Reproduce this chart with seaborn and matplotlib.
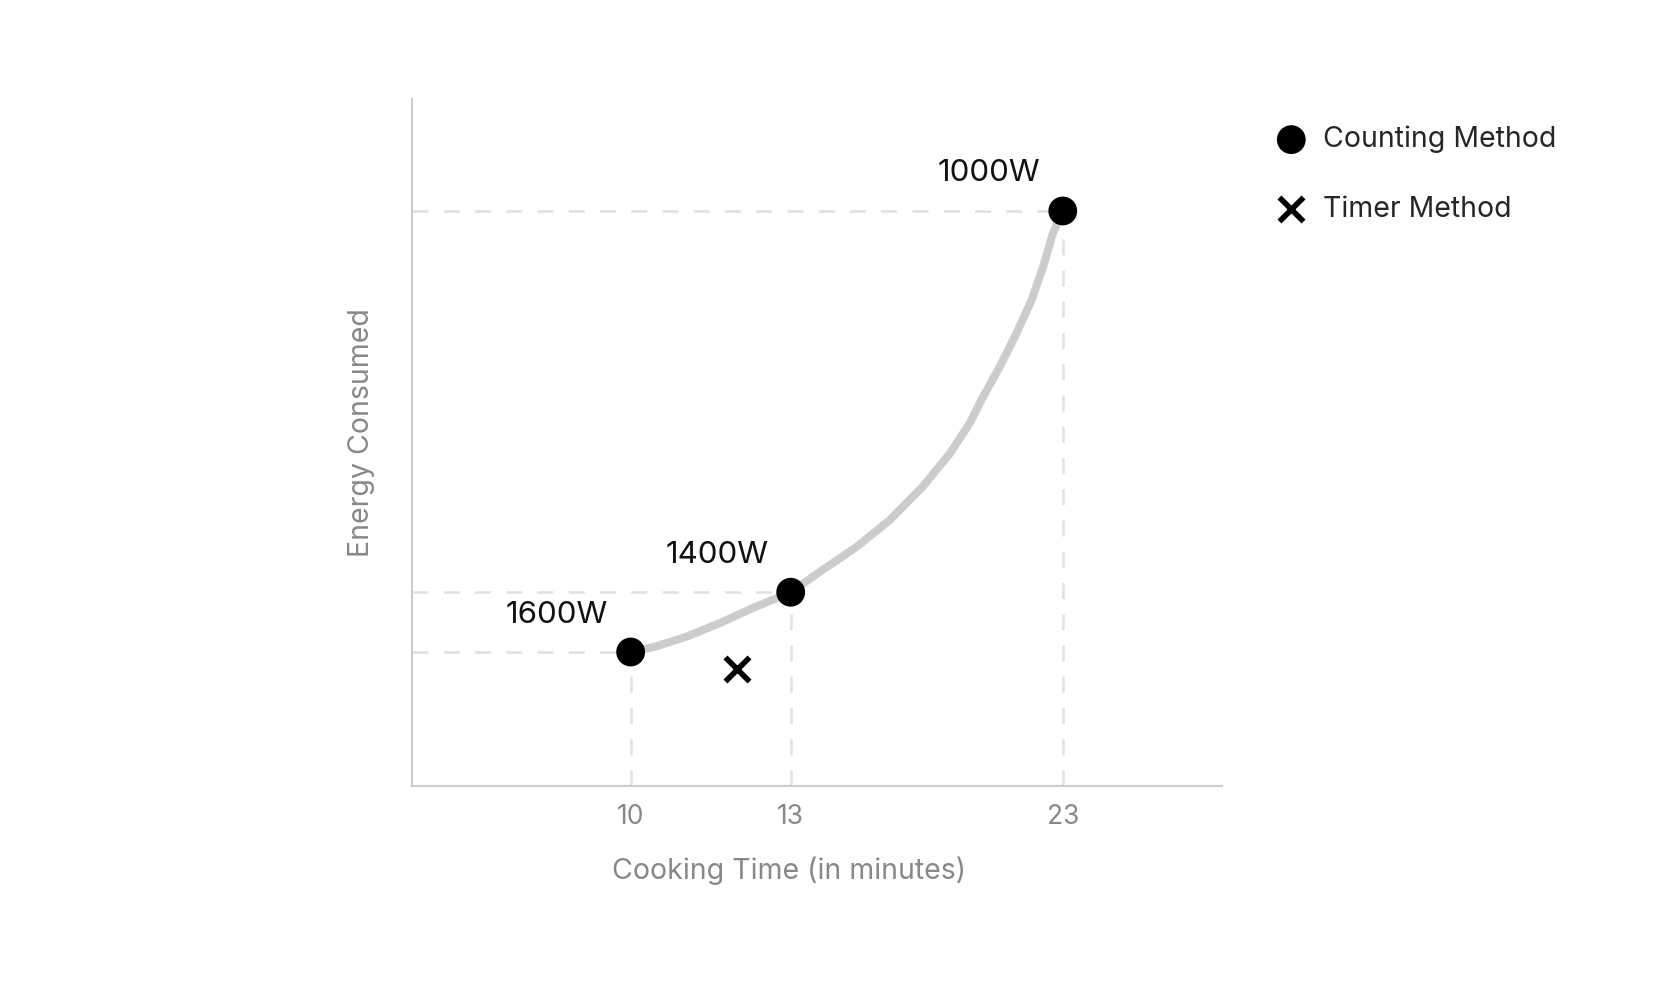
import numpy as np
import pandas as pd
import matplotlib
matplotlib.use('Agg')
import matplotlib.pyplot as plt
import seaborn as sns

# counting method points (cooking time in minutes, energy in arbitrary units)
count_time = [10, 13, 23]
count_energy = [19.5, 28.2, 83.7]
count_power = ['1600W', '1400W', '1000W']

# timer method point
timer_time = [12]
timer_energy = [17.0]

# gray trend curve
curve_time = [10, 10.42, 11.04, 11.67, 12.29, 13, 14.19, 15.42, 16.64, 17.86,
              18.85, 19.58, 20.01, 20.68, 21.3, 21.85, 22.28, 22.64, 23]
curve_energy = [19.5, 20.2, 21.7, 23.7, 25.9, 28.2, 31.5, 34.8, 38.7, 43.6,
                48.4, 52.8, 56.2, 61.0, 65.9, 70.7, 75.6, 80.5, 83.7]

x_ticks = [10, 13, 23]
x_lim = (5.9, 28.85)
y_lim = (0, 100)

# the time axis is not evenly spaced in the source, piecewise scale
scale_t = [0, 10, 13, 23, 50]
scale_u = [-10, 0, 3, 8.1, 21.87]

def fwd(t):
    return np.interp(t, scale_t, scale_u)

def inv(u):
    return np.interp(u, scale_u, scale_t)

sns.set_style('white')
plt.rcParams['font.family'] = ['Inter', 'DejaVu Sans']

gray_txt = '#888888'
fig = plt.figure(figsize=(16.65, 9.89), dpi=100)
ax = fig.add_axes([0.2474, 0.2053, 0.4865, 0.6946])

curve = pd.DataFrame({'time': curve_time, 'energy': curve_energy})
sns.lineplot(data=curve, x='time', y='energy', color='#cccccc', lw=5.8, sort=False,
             solid_capstyle='round', solid_joinstyle='round', zorder=3, ax=ax)

# dashed guide lines to the axes
for t, e in zip(count_time, count_energy):
    ax.hlines(e, x_lim[0], t, colors='#e0e0e0', lw=1.8, linestyles=(0, (6.4, 6.1)), zorder=1)
    ax.vlines(t, y_lim[0], e, colors='#e0e0e0', lw=1.8, linestyles=(0, (6.4, 6.1)), zorder=1)

counting = pd.DataFrame({'time': count_time, 'energy': count_energy})
timer = pd.DataFrame({'time': timer_time, 'energy': timer_energy})
sns.scatterplot(data=counting, x='time', y='energy', color='black', s=430, marker='o',
                edgecolor='none', zorder=5, label='Counting Method', ax=ax)
sns.scatterplot(data=timer, x='time', y='energy', color='black', s=300, marker='x',
                linewidth=4, zorder=5, label='Timer Method', ax=ax)

for t, e, lab in zip(count_time, count_energy, count_power):
    ax.annotate(lab, (t, e), xytext=(-53, 27), textcoords='offset points',
                ha='center', va='center', fontsize=22.5, color='#111111')

ax.set_xscale('function', functions=(fwd, inv))
ax.set_xlim(*x_lim)
ax.set_ylim(*y_lim)
ax.set_xticks(x_ticks)
ax.set_xticklabels([str(t) for t in x_ticks])
ax.set_yticks([])
ax.tick_params(axis='x', length=0, pad=13, labelsize=19, labelcolor=gray_txt)

ax.set_xlabel('Cooking Time (in minutes)', fontsize=20.5, color=gray_txt)
ax.xaxis.set_label_coords(0.465, -0.1025)
ax.set_ylabel('Energy Consumed', fontsize=20.5, color=gray_txt)
ax.yaxis.set_label_coords(-0.045, 0.515)

for side in ['top', 'right']:
    ax.spines[side].set_visible(False)
for side in ['left', 'bottom']:
    ax.spines[side].set_color('#cccccc')
    ax.spines[side].set_linewidth(1.5)

ax.legend(loc='upper left', bbox_to_anchor=(0.767, 0.873), bbox_transform=fig.transFigure,
          frameon=False, fontsize=20.5, borderpad=0, handlelength=1.0, handletextpad=0.6,
          labelspacing=1.5, borderaxespad=0)

fig.savefig('out.png', dpi=100)
